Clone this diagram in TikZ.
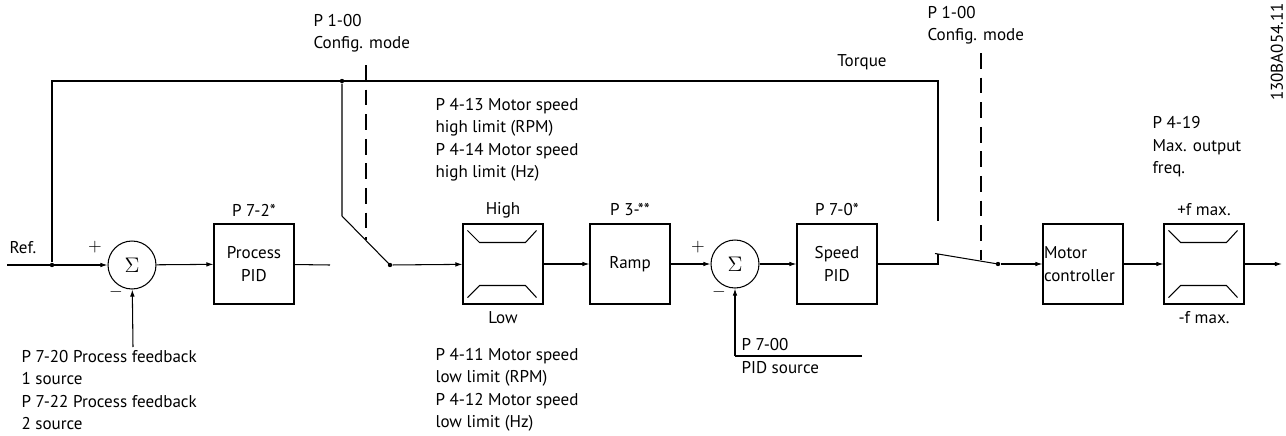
\documentclass[tikz,border=0pt]{standalone}
\usepackage{fontspec}
\setmainfont{PT Sans}
\usetikzlibrary{positioning,arrows.meta}

\newcommand{\limiterlines}[1]{%
  \draw ([shift={(5,7)}]#1.north west) -- ([shift={(17,19)}]#1.north west)
     -- ([shift={(63,19)}]#1.north west) -- ([shift={(74,7)}]#1.north west);
  \draw ([shift={(5,-7)}]#1.south west) -- ([shift={(17,-19)}]#1.south west)
     -- ([shift={(63,-19)}]#1.south west) -- ([shift={(74,-7)}]#1.south west);
}

\begin{document}
\begin{tikzpicture}[
    x=0.02cm, y=-0.02cm,
    line width=0.6pt,
    font=\fontsize{9.7}{12.8}\selectfont,
    block/.style={draw, minimum width=1.6cm, minimum height=1.6cm, align=center, inner sep=1pt},
    sumnode/.style={draw, circle, minimum size=0.96cm, inner sep=0pt, font=\large},
    dot/.style={circle, fill, inner sep=0pt, minimum size=2.5pt},
    arrow/.style={-{Latex[length=4pt,width=2.6pt]}},
    txt/.style={align=left, inner sep=0pt, anchor=west},
    dashline/.style={dash pattern=on 9pt off 5pt}
]
\useasboundingbox (0,0) rectangle (1286,436);

% Signal path nodes
\coordinate (ref) at (7,265);
\node[txt] (reflabel) at (9,248) {Ref.};
\node[dot] (jref) at (52,265) {};
\node[sumnode] (sum1) at (132,265) {$\Sigma$};
\node[block] (ppid) at (254,264) {Process\\PID};
\node (ppidpar) at (254,210) {P 7-2*};
\coordinate (ppidend) at (330,265);

% Config mode switch 1
\node[dot] (sw1) at (390,265) {};
\coordinate (sw1top) at (342,216);
\node[dot] (jtop) at (342,81) {};
\coordinate (tl) at (52,81);
\coordinate (tr) at (938,81);
\coordinate (torqend) at (938,221);
\node (torque) at (862,62) {Torque};

% Limiters, ramp, speed PID
\node[block] (hilim) at (503,264) {};
\node (high) at (503,210) {High};
\node (low) at (503,318) {Low};
\node[block] (ramp) at (630,264) {Ramp};
\node (ramppar) at (630,210) {P 3-**};
\node[sumnode] (sum2) at (735,264) {$\Sigma$};
\node[block] (spid) at (837,264) {Speed\\PID};
\node (spidpar) at (837,210) {P 7-0*};

% Config mode switch 2
\coordinate (sw2a) at (938,264);
\coordinate (sw2b) at (938,254);
\coordinate (sw2blade) at (935,253.5);
\node[dot] (sw2) at (998,264) {};

% Motor controller and output limiter
\node[block, align=left, text width=1.56cm, inner sep=0.5pt] (mctrl) at (1083,264) {Motor\\controller};
\node[block] (folim) at (1204,264) {};
\node (fmaxp) at (1204,210) {+f max.};
\node (fmaxm) at (1204,318) {-f max.};
\coordinate (out) at (1282,264);

% Feedback inputs
\coordinate (fb1) at (133,347);
\coordinate (fb2) at (735,356);
\coordinate (fb2end) at (862,356);

% Signs
\node (p1) at (95,247) {$+$};
\node (m1) at (116,292) {$-$};
\node (p2) at (698,247) {$+$};
\node (m2) at (719,292) {$-$};

% Parameter texts
\node[txt] (cfg1) at (313,33) {P 1-00\\Config. mode};
\node[txt] (cfg2) at (927,25) {P 1-00\\Config. mode};
\node[txt] (hipar) at (435,140) {P 4-13 Motor speed\\high limit (RPM)\\P 4-14 Motor speed\\high limit (Hz)};
\node[txt] (lopar) at (435,390) {P 4-11 Motor speed\\low limit (RPM)\\P 4-12 Motor speed\\low limit (Hz)};
\node[txt] (fbpar) at (21,390) {P 7-20 Process feedback\\1 source\\P 7-22 Process feedback\\2 source};
\node[txt] (pidsrc) at (741,345) {P 7-00};
\node[txt] (pidsrc2) at (741,368) {PID source};
\node[txt] (maxpar) at (1152,147) {P 4-19\\Max. output\\freq.};
\node[rotate=90] (docid) at (1277,52) {130BA054.11};

% Connections
\draw[arrow] (ref) -- (sum1);
\draw[arrow] (sum1) -- (ppid);
\draw (ppid) -- (ppidend);
\draw (jref) -- (tl) -- (tr) -- (torqend);
\draw (jtop) -- (sw1top) -- (sw1.center);
\draw[arrow] (sw1) -- (hilim);
\draw[arrow] (hilim) -- (ramp);
\draw[arrow] (ramp) -- (sum2);
\draw[arrow] (sum2) -- (spid);
\draw (spid) -- (sw2a) -- (sw2b);
\draw (sw2blade) -- (sw2.center);
\draw[arrow] (sw2) -- (mctrl);
\draw[arrow] (mctrl) -- (folim);
\draw[arrow] (folim) -- (out);
\draw[arrow] (fb1) -- (sum1);
\draw (fb2end) -- (fb2);
\draw[arrow] (fb2) -- (sum2);

% Config mode dashed lines
\draw[dashline] (366,65) -- (366,240);
\draw[dashline] (981,53) -- (981,260);

% Limiter symbols
\limiterlines{hilim}
\limiterlines{folim}

\end{tikzpicture}
\end{document}
